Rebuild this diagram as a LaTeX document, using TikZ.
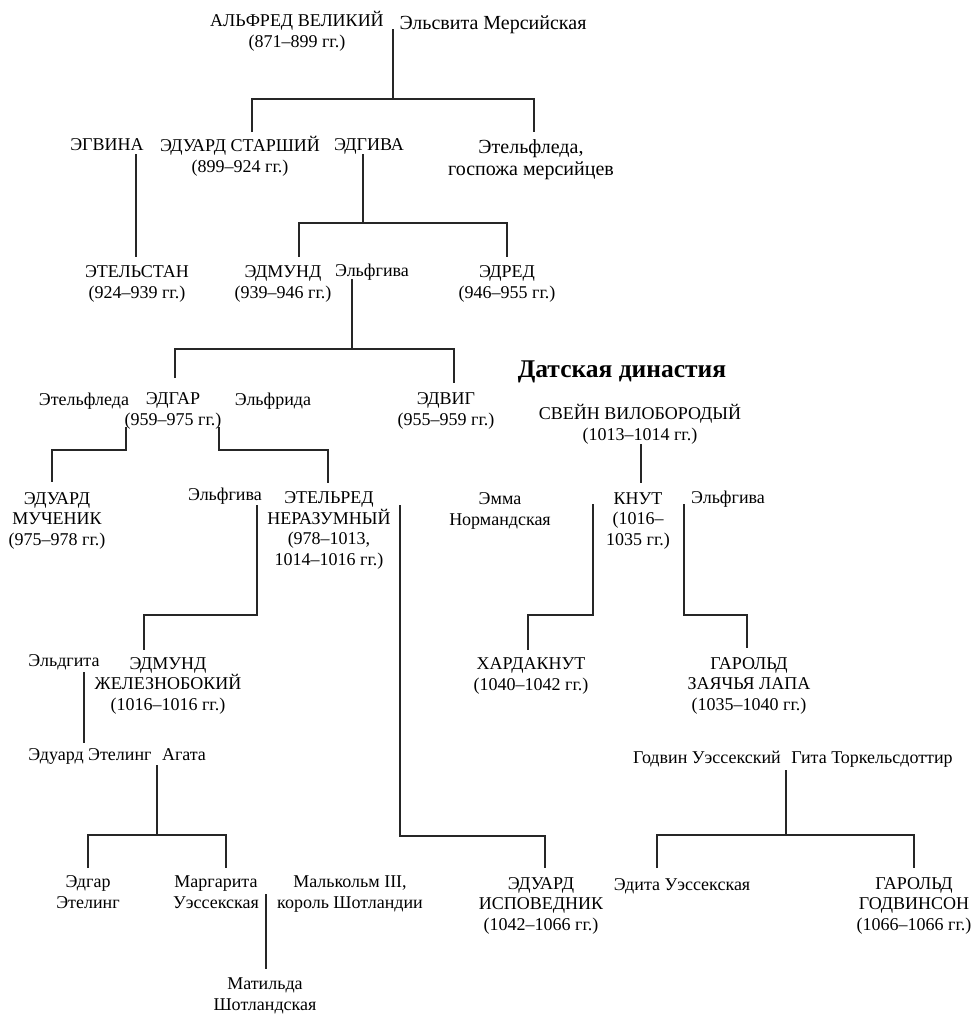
\documentclass[tikz,border=0pt]{standalone}
\usepackage{fontspec}
\setmainfont{Liberation Serif}
\tikzset{
  person/.style={anchor=base, align=center, inner sep=0pt, font=\fontsize{18}{20.5}\selectfont},
  bigperson/.style={person, font=\fontsize{20}{21.5}\selectfont},
  heading/.style={anchor=base, inner sep=0pt, font=\fontsize{25.5}{28}\selectfont\bfseries},
  kinline/.style={draw=black!85, line width=1.2pt}
}
\begin{document}
\begin{tikzpicture}[x=1pt, y=-1pt]
  \useasboundingbox (0,0) rectangle (976,1015);
  \node[person] (alfred) at (297,47) {АЛЬФРЕД ВЕЛИКИЙ\\(871–899 гг.)};
  \node[bigperson] (ealhswith) at (493,29) {Эльсвита Мерсийская};
  \node[person] (ecgwynn) at (107,150) {ЭГВИНА};
  \node[person] (edwardelder) at (240,172) {ЭДУАРД СТАРШИЙ\\(899–924 гг.)};
  \node[person] (eadgifu) at (369,150) {ЭДГИВА};
  \node[bigperson] (aethelflaedm) at (531,175) {Этельфледа,\\госпожа мерсийцев};
  \node[person] (aethelstan) at (137,298) {ЭТЕЛЬСТАН\\(924–939 гг.)};
  \node[person] (edmund) at (283,298) {ЭДМУНД\\(939–946 гг.)};
  \node[person] (aelfgifua) at (372,276) {Эльфгива};
  \node[person] (eadred) at (507,298) {ЭДРЕД\\(946–955 гг.)};
  \node[person] (aethelflaede) at (84,405) {Этельфледа};
  \node[person] (edgar) at (173,425) {ЭДГАР\\(959–975 гг.)};
  \node[person] (aelfthryth) at (273,405) {Эльфрида};
  \node[person] (eadwig) at (446,425) {ЭДВИГ\\(955–959 гг.)};
  \node[heading] (danish) at (622,377) {Датская династия};
  \node[person] (sweyn) at (640,440) {СВЕЙН ВИЛОБОРОДЫЙ\\(1013–1014 гг.)};
  \node[person] (edwardmartyr) at (57,545) {ЭДУАРД\\МУЧЕНИК\\(975–978 гг.)};
  \node[person] (aelfgifub) at (225,500) {Эльфгива};
  \node[person] (aethelred) at (329,565) {ЭТЕЛЬРЕД\\НЕРАЗУМНЫЙ\\(978–1013,\\1014–1016 гг.)};
  \node[person] (emma) at (500,525) {Эмма\\Нормандская};
  \node[person] (cnut) at (638,545) {КНУТ\\(1016–\\1035 гг.)};
  \node[person] (aelfgifuc) at (728,503) {Эльфгива};
  \node[person] (ealdgyth) at (64,666) {Эльдгита};
  \node[person] (edmundiron) at (168,710) {ЭДМУНД\\ЖЕЛЕЗНОБОКИЙ\\(1016–1016 гг.)};
  \node[person] (harthacnut) at (531,690) {ХАРДАКНУТ\\(1040–1042 гг.)};
  \node[person] (haroldhare) at (749,710) {ГАРОЛЬД\\ЗАЯЧЬЯ ЛАПА\\(1035–1040 гг.)};
  \node[person] (edwardexile) at (90,760) {Эдуард Этелинг};
  \node[person] (agatha) at (184,760) {Агата};
  \node[person] (godwin) at (707,763) {Годвин Уэссекский};
  \node[person] (gytha) at (872,763) {Гита Торкельсдоттир};
  \node[person] (edgaraeth) at (88,908) {Эдгар\\Этелинг};
  \node[person] (margaret) at (216,908) {Маргарита\\Уэссекская};
  \node[person] (malcolm) at (350,908) {Малькольм III,\\король Шотландии};
  \node[person] (edwardconf) at (541,930) {ЭДУАРД\\ИСПОВЕДНИК\\(1042–1066 гг.)};
  \node[person] (edith) at (682,890) {Эдита Уэссекская};
  \node[person] (haroldgod) at (914,930) {ГАРОЛЬД\\ГОДВИНСОН\\(1066–1066 гг.)};
  \node[person] (matilda) at (265,1010) {Матильда\\Шотландская};

  \coordinate (alfredm) at (393,29);
  \coordinate (alfredj) at (393,99);
  \coordinate (edwardtop) at (252,132);
  \coordinate (aethelflaedtop) at (534,132);
  \coordinate (ecgwynnm) at (136,154);
  \coordinate (aethelstantop) at (136,257);
  \coordinate (eadgifum) at (363,154);
  \coordinate (eadgifuj) at (363,223);
  \coordinate (edmundtop) at (299,257);
  \coordinate (eadredtop) at (507,257);
  \coordinate (aelfgifuam) at (352,279);
  \coordinate (aelfgifuaj) at (352,349);
  \coordinate (edgartop) at (175,378);
  \coordinate (eadwigtop) at (454,383);
  \coordinate (edgarl) at (126,427);
  \coordinate (edgarr) at (219,427);
  \coordinate (edgarlj) at (126,450);
  \coordinate (edgarrj) at (219,450);
  \coordinate (martyrtop) at (52,482);
  \coordinate (aethelredtop) at (328,483);
  \coordinate (aelfgifubm) at (257,505);
  \coordinate (aelfgifubj) at (257,615);
  \coordinate (ironsidetop) at (144,650);
  \coordinate (aethelredm) at (400,505);
  \coordinate (aethelredj) at (400,836);
  \coordinate (confessortop) at (545,868);
  \coordinate (sweynm) at (641,444);
  \coordinate (cnuttop) at (641,483);
  \coordinate (cnutl) at (593,504);
  \coordinate (cnutlj) at (593,615);
  \coordinate (harthatop) at (528,650);
  \coordinate (cnutr) at (684,504);
  \coordinate (cnutrj) at (684,615);
  \coordinate (haroldtop) at (747,648);
  \coordinate (ealdgythm) at (84,672);
  \coordinate (exiletop) at (84,743);
  \coordinate (agatham) at (157,765);
  \coordinate (agathaj) at (157,835);
  \coordinate (edgaraethtop) at (88,868);
  \coordinate (margarettop) at (226,868);
  \coordinate (godwinm) at (786,770);
  \coordinate (godwinj) at (786,835);
  \coordinate (edithtop) at (657,868);
  \coordinate (haroldgodtop) at (914,868);
  \coordinate (margaretm) at (266,894);
  \coordinate (matildatop) at (266,969);

  \draw[kinline] (alfredm) -- (alfredj);
  \draw[kinline] (edwardtop) |- (alfredj) -| (aethelflaedtop);
  \draw[kinline] (ecgwynnm) -- (aethelstantop);
  \draw[kinline] (eadgifum) -- (eadgifuj);
  \draw[kinline] (edmundtop) |- (eadgifuj) -| (eadredtop);
  \draw[kinline] (aelfgifuam) -- (aelfgifuaj);
  \draw[kinline] (edgartop) |- (aelfgifuaj) -| (eadwigtop);
  \draw[kinline] (edgarl) -- (edgarlj) -| (martyrtop);
  \draw[kinline] (edgarr) -- (edgarrj) -| (aethelredtop);
  \draw[kinline] (aelfgifubm) -- (aelfgifubj) -| (ironsidetop);
  \draw[kinline] (aethelredm) -- (aethelredj) -| (confessortop);
  \draw[kinline] (sweynm) -- (cnuttop);
  \draw[kinline] (cnutl) -- (cnutlj) -| (harthatop);
  \draw[kinline] (cnutr) -- (cnutrj) -| (haroldtop);
  \draw[kinline] (ealdgythm) -- (exiletop);
  \draw[kinline] (agatham) -- (agathaj);
  \draw[kinline] (edgaraethtop) |- (agathaj) -| (margarettop);
  \draw[kinline] (godwinm) -- (godwinj);
  \draw[kinline] (edithtop) |- (godwinj) -| (haroldgodtop);
  \draw[kinline] (margaretm) -- (matildatop);
\end{tikzpicture}
\end{document}
